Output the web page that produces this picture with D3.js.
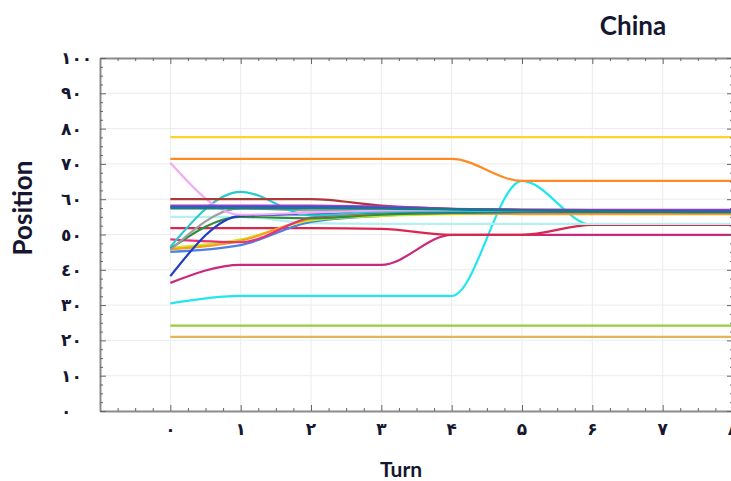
<!DOCTYPE html>
<html>
<head>
<meta charset="utf-8">
<script src="https://cdn.jsdelivr.net/npm/d3@7"></script>
<style>
  html, body { margin: 0; padding: 0; background: #fff; }
  svg { display: block; }
</style>
</head>
<body>
<svg id="chart" width="731" height="481"></svg>
<script>
// Turns on the x axis and their Persian labels
const turns = [0, 1, 2, 3, 4, 5, 6, 7, 8];
const xTickLabels = ["۰", "۱", "۲", "۳", "۴", "۵", "۶", "۷", "۸"];

// Position ticks and their Arabic-Indic labels
const yTickValues = [0, 10, 20, 30, 40, 50, 60, 70, 80, 90, 100];
const yTickLabels = ["٠", "١٠", "٢٠", "٣٠", "٤٠", "٥٠", "٦٠", "٧٠", "٨٠", "٩٠", "١٠٠"];

// Position of each actor per turn
const goldActor       = [77.6, 77.6, 77.6, 77.6, 77.6, 77.6, 77.6, 77.6, 77.6];
const orangeActor     = [71.4, 71.4, 71.4, 71.4, 71.4, 65.2, 65.2, 65.2, 65.2];
const plumActor       = [70.3, 55.6, 56.2, 56.8, 57.0, 57.0, 57.0, 57.0, 57.0];
const brownActor      = [60.0, 60.0, 60.0, 58.2, 57.3, 57.0, 56.9, 56.9, 56.9];
const purpleActor     = [58.2, 58.2, 58.2, 57.9, 57.3, 57.0, 56.9, 56.9, 56.9];
const royalActor      = [57.8, 57.8, 57.8, 57.6, 57.2, 56.9, 56.8, 56.7, 56.7];
const tealActor       = [57.4, 57.4, 57.4, 57.3, 57.1, 56.8, 56.6, 56.4, 56.3];
const paleActor       = [55.0, 55.0, 53.2, 53.0, 53.0, 53.0, 53.0, 53.0, 53.0];
const crimsonActor    = [51.8, 51.8, 51.8, 51.6, 49.9, 49.9, 52.7, 52.7, 52.7];
const magentaActor    = [36.3, 41.4, 41.4, 41.4, 49.9, 49.9, 49.9, 49.9, 49.9];
const pinkActor       = [48.6, 47.8, 54.8, 56.3, 56.8, 57.0, 57.0, 57.0, 57.0];
const amberActor      = [45.8, 48.2, 54.4, 55.8, 56.0, 55.8, 55.8, 55.8, 55.8];
const limeActor       = [46.2, 48.6, 54.0, 55.3, 55.8, 55.9, 55.9, 55.9, 55.9];
const cornflowerActor = [45.1, 47.0, 53.6, 55.3, 56.0, 56.3, 56.3, 56.3, 56.3];
const forestActor     = [46.0, 55.0, 54.6, 55.6, 56.1, 56.3, 56.3, 56.3, 56.3];
const greyActor       = [45.6, 57.4, 56.8, 56.8, 56.6, 56.5, 56.5, 56.5, 56.5];
const navyActor       = [38.2, 55.3, 55.8, 56.3, 56.5, 56.5, 56.5, 56.4, 56.4];
const turquoiseActor  = [46.5, 62.1, 55.4, 56.4, 56.6, 56.6, 56.6, 56.6, 56.6];
const aquaActor       = [30.5, 32.6, 32.6, 32.6, 32.6, 65.2, 52.7, 52.7, 52.7];
const oliveActor      = [24.2, 24.2, 24.2, 24.2, 24.2, 24.2, 24.2, 24.2, 24.2];
const sandActor       = [21.0, 21.0, 21.0, 21.0, 21.0, 21.0, 21.0, 21.0, 21.0];

const seriesValues = [
  sandActor, oliveActor, aquaActor, magentaActor, crimsonActor, paleActor,
  cornflowerActor, limeActor, amberActor, pinkActor, forestActor, greyActor,
  navyActor, turquoiseActor, plumActor, brownActor, purpleActor, royalActor,
  tealActor, orangeActor, goldActor
];
const seriesColors = [
  "#e3b458", "#9ccb3c", "#22e6ee", "#c8287e", "#d8284e", "#b4f0f0",
  "#4a82e6", "#c6ec1c", "#ff9a22", "#e8307a", "#2f8f3a", "#9aa0a0",
  "#1f3ec4", "#28c8d0", "#f2aaf2", "#b03838", "#a040d0", "#3f52c8",
  "#177c84", "#ff8a24", "#ffd428"
];

const svg = d3.select("#chart");
const margin = { left: 100, top: 58, right: 733, bottom: 411 };

const x = d3.scaleLinear().domain([-1, 8]).range([margin.left, margin.right]);
const y = d3.scaleLinear().domain([0, 100]).range([margin.bottom, margin.top]);

// light grid
const grid = svg.append("g");
grid.selectAll("line.v").data(turns).join("line")
  .attr("x1", d => x(d)).attr("x2", d => x(d))
  .attr("y1", margin.top).attr("y2", margin.bottom)
  .attr("stroke", "#ececec").attr("stroke-width", 1);
grid.selectAll("line.h").data(yTickValues).join("line")
  .attr("y1", d => y(d)).attr("y2", d => y(d))
  .attr("x1", margin.left).attr("x2", margin.right)
  .attr("stroke", "#ececec").attr("stroke-width", 1);

// series lines
svg.append("defs").append("clipPath").attr("id", "plot")
  .append("rect")
  .attr("x", margin.left).attr("y", margin.top)
  .attr("width", margin.right - margin.left)
  .attr("height", margin.bottom - margin.top);

const line = d3.line()
  .x((d, i) => x(turns[i]))
  .y(d => y(d))
  .curve(d3.curveMonotoneX);

svg.append("g").attr("clip-path", "url(#plot)")
  .selectAll("path").data(seriesValues).join("path")
  .attr("d", d => line(d))
  .attr("fill", "none")
  .attr("stroke", (d, i) => seriesColors[i])
  .attr("stroke-width", 2.2)
  .attr("stroke-linejoin", "round");

// frame axes with inward ticks
const minorX = d3.range(-1, 8.01, 0.25);
const minorY = d3.range(0, 100.01, 2.5);
const isMajor = v => Math.abs(v - Math.round(v)) < 1e-6;

function styleAxis(g) {
  g.select(".domain").attr("stroke", "#8c8c8c").attr("stroke-width", 2);
  g.selectAll(".tick line").attr("stroke", "#666");
  g.selectAll(".tick text").remove();
}

const xBottom = d3.axisBottom(x).tickValues(minorX).tickSizeOuter(0);
svg.append("g").attr("transform", `translate(0,${margin.bottom})`).call(xBottom).call(styleAxis)
  .selectAll(".tick line").attr("y2", d => isMajor(d) ? -6 : -3);

const xTop = d3.axisTop(x).tickValues(minorX).tickSizeOuter(0);
svg.append("g").attr("transform", `translate(0,${margin.top})`).call(xTop).call(styleAxis)
  .selectAll(".tick line").attr("y2", d => isMajor(d) ? 6 : 3);

const yLeft = d3.axisLeft(y).tickValues(minorY).tickSizeOuter(0);
svg.append("g").attr("transform", `translate(${margin.left},0)`).call(yLeft).call(styleAxis)
  .selectAll(".tick line").attr("x2", d => (d % 10 === 0) ? 6 : 3);

const yRight = d3.axisRight(y).tickValues(minorY).tickSizeOuter(0);
svg.append("g").attr("transform", `translate(${margin.right},0)`).call(yRight).call(styleAxis)
  .selectAll(".tick line").attr("x2", d => (d % 10 === 0) ? -6 : -3);

// tick labels
const labelColor = "#161630";
svg.append("g").selectAll("text").data(yTickValues).join("text")
  .attr("x", 61)
  .attr("y", d => y(d) + 6)
  .attr("text-anchor", "start")
  .attr("direction", "ltr")
  .attr("font-family", "DejaVu Sans")
  .attr("font-weight", "bold")
  .attr("font-size", 17)
  .attr("fill", labelColor)
  .text((d, i) => yTickLabels[i]);

svg.append("g").selectAll("text").data(turns).join("text")
  .attr("x", d => x(d))
  .attr("y", 435)
  .attr("text-anchor", "middle")
  .attr("font-family", "DejaVu Sans")
  .attr("font-weight", "bold")
  .attr("font-size", 17)
  .attr("fill", labelColor)
  .text((d, i) => xTickLabels[i]);

// titles
svg.append("text")
  .attr("x", 633).attr("y", 35)
  .attr("text-anchor", "middle")
  .attr("font-family", "Lato").attr("font-weight", "bold")
  .attr("font-size", 26).attr("fill", labelColor)
  .text("China");

svg.append("text")
  .attr("transform", "translate(32,208) rotate(-90)")
  .attr("text-anchor", "middle")
  .attr("font-family", "Lato").attr("font-weight", "bold")
  .attr("font-size", 26).attr("fill", labelColor)
  .text("Position");

svg.append("text")
  .attr("x", 401).attr("y", 477)
  .attr("text-anchor", "middle")
  .attr("font-family", "Lato").attr("font-weight", "bold")
  .attr("font-size", 21).attr("fill", labelColor)
  .text("Turn");
</script>
</body>
</html>
